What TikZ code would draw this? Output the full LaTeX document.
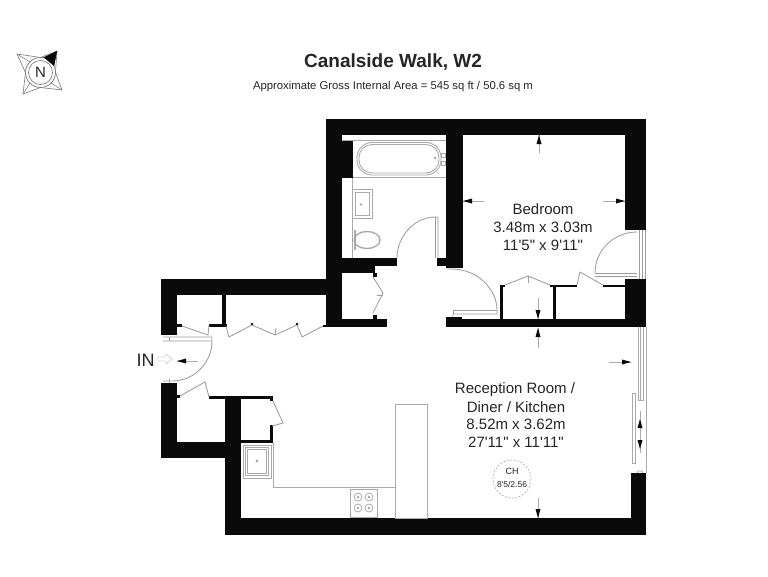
\documentclass[tikz,border=0pt]{standalone}
\usepackage{fontspec}
\setmainfont{Liberation Sans}
\newfontfamily\straightfont{Liberation Sans}
\definecolor{wallc}{HTML}{0A0A0A}
\definecolor{fix}{HTML}{ABABAB}
\definecolor{txt}{HTML}{262626}
\tikzset{
  wall/.style={fill=wallc,draw=none},
  fixture/.style={draw=fix,line width=0.9pt,fill=none},
  doorline/.style={draw=fix!92!black,line width=0.85pt,fill=none},
  dimline/.style={draw=fix,line width=0.7pt},
  dimtip/.style={fill=wallc,draw=none},
  label/.style={text=txt,font=\straightfont\fontsize{15}{15}\selectfont,inner sep=0pt,anchor=base},
}
\newcommand{\dimup}[2]{\fill[dimtip] (#1,#2) -- ++(-2.5,9) -- ++(5,0) -- cycle;}
\newcommand{\dimdown}[2]{\fill[dimtip] (#1,#2) -- ++(-2.5,-9) -- ++(5,0) -- cycle;}
\newcommand{\dimleft}[2]{\fill[dimtip] (#1,#2) -- ++(9,-2.5) -- ++(0,5) -- cycle;}
\newcommand{\dimright}[2]{\fill[dimtip] (#1,#2) -- ++(-9,-2.5) -- ++(0,5) -- cycle;}
\begin{document}
\begin{tikzpicture}[x=1pt,y=-1pt]
\useasboundingbox (0,0) rectangle (768,576);
\fill[white] (0,0) rectangle (768,576);

% --- title
\node[inner sep=0pt,anchor=base,text=txt,font=\bfseries\fontsize{19}{19}\selectfont] (title) at (393,67) {Canalside Walk, W2};
\node[inner sep=0pt,anchor=base,text=txt,font=\fontsize{11.3}{12}\selectfont] (subtitle) at (393,89) {Approximate Gross Internal Area = 545 sq ft / 50.6 sq m};

% --- compass
\draw[fix!70!black,line width=0.6pt,fill=white] (57,51) -- (40.5,57.5) -- (17,54) -- (25.5,72.5) -- (23,94) -- (40.5,87.5) -- (62,90) -- (55.5,72.5) -- cycle;
\fill[wallc] (57,51) -- (42,58) -- (54,66) -- cycle;
\draw[fix!70!black,line width=0.5pt] (17,54) -- (30,62) (23,94) -- (30,83) (62,90) -- (51,83);
\draw[fix!70!black,line width=0.7pt,fill=white] (40.5,72.5) circle[radius=15];
\fill[wallc] (57,51) -- (44.5,58) -- (54,66) -- cycle;
\draw[fix!70!black,line width=0.6pt] (40.5,72.5) circle[radius=12];
\node[inner sep=0pt,text=txt,font=\fontsize{15}{15}\selectfont] (north) at (40.5,72.5) {N};

% --- walls
\fill[wall] (326,119) rectangle (646,135);   % top
\fill[wall] (326,119) rectangle (342,327);   % bath/closet left
\fill[wall] (342,140) rectangle (353,178);   % bath nib
\fill[wall] (446,119) rectangle (463,268);   % bath/bed
\fill[wall] (437,258) rectangle (446,266);
\fill[wall] (342,258) rectangle (397,266);
\fill[wall] (342,258) rectangle (375,273);
\fill[wall] (373,273) rectangle (377,277);
\fill[wall] (326,319) rectangle (387,327);
\fill[wall] (373,315) rectangle (377,319);
\fill[wall] (625,119) rectangle (646,230);   % bed right
\fill[wall] (625,279) rectangle (646,327);
\fill[wall] (446,319) rectangle (646,327);   % bed bottom
\fill[wall] (446,317) rectangle (462,319);
\fill[wall] (500,285) rectangle (503,319);
\fill[wall] (553,285) rectangle (556,319);
\fill[wall] (500,285) rectangle (505,287);
\fill[wall] (550,285) rectangle (577,287);
\fill[wall] (603,285) rectangle (625,287);
\fill[wall] (161,279) rectangle (326,295);   % upper hall
\fill[wall] (161,279) rectangle (177,335);
\fill[wall] (177,324) rectangle (182,327);
\fill[wall] (222,295) rectangle (226,327);
\fill[wall] (209,324) rectangle (227,327);
\fill[wall] (323,325) rectangle (326,327);
\fill[wall] (161,383) rectangle (177,458);   % lower hall
\fill[wall] (161,442) rectangle (241,458);
\fill[wall] (177,395) rectangle (180,398);
\fill[wall] (209,396) rectangle (273,399);
\fill[wall] (225,396) rectangle (241,535);
\fill[wall] (270,396) rectangle (273,401);
\fill[wall] (270,425) rectangle (273,443);
\fill[wall] (241,440) rectangle (273,443);
\fill[wall] (225,518) rectangle (646,535);   % bottom
\fill[wall] (631,473) rectangle (646,535);   % right
\fill[wall] (252,324) circle[radius=1.5] (297,324) circle[radius=1.5];

% --- bathroom
\draw[fixture] (342,140.5) -- (446,140.5);
\draw[fixture] (353,177.5) -- (446,177.5);
\draw[fixture] (352.5,178) -- (352.5,258);
\draw[fixture,rounded corners=15pt] (357,142.5) rectangle (441,175);
\draw[fixture,rounded corners=13pt] (359,144.5) rectangle (439,173);
\fill[fix] (435,158) circle[radius=1.5];
\draw[fixture,line width=0.6pt] (441,153) rectangle (445,157) (441,161) rectangle (445,165);
\draw[fixture] (352.5,189) rectangle (372,218);
\draw[fixture] (355,192) rectangle (369.5,215);
\fill[fix] (361,204.5) circle[radius=1.3];
\draw[fixture,line width=2pt] (354.5,230) -- (354.5,250);
\draw[fixture,line width=1.4pt] (367,240) ellipse[x radius=13,y radius=8.5];
\draw[doorline] (397,258) .. controls (397,236) and (415,217) .. (435,217) -- (438,217) -- (438,258);
\draw[doorline] (435,217) -- (435,258);

% --- inner doors
\draw[doorline] (373,277) -- (383,293) -- (373,313);
\draw[doorline] (377,295) -- (383,295);
\draw[doorline] (447,269) -- (452,269) .. controls (477,269) and (497,289) .. (497,310) -- (497,314) -- (453,314) -- (453,317);
\draw[doorline] (497,310) -- (453,310) -- (453,314);
\draw[doorline] (505,285) -- (528,276) -- (550,285);
\draw[doorline] (528,276) -- (528,283);
\draw[doorline] (577,285) -- (580,272) -- (603,285);
\draw[doorline] (595,273) .. controls (595,250) and (614,232) .. (637,232);
\draw[doorline] (595,273) -- (637,273) (595,276) -- (637,276);
\draw[doorline] (639,230) -- (639,279) (642,230) -- (642,279) (645.5,230) -- (645.5,279);
\draw[doorline] (182,326) -- (208,335) -- (209,325);
\draw[doorline] (226,326) -- (229,337) -- (252,325) -- (275,335) -- (297,325) -- (302,337) -- (323,326);
\draw[doorline] (276,328) -- (275,335);
\draw[doorline] (180,396) -- (205,382) -- (209,397);
\draw[doorline] (273,401) -- (283,423) -- (272,426);
% entrance door
\draw[doorline] (163,337) -- (212,337) -- (212,341) -- (163,341) (212,341) .. controls (212,363) and (194,381) .. (172,381) -- (163,381);
\draw[doorline] (169,337) -- (169,341) (169,379) -- (169,383);

% --- kitchen
\draw[fixture] (243,445) rectangle (271,478);
\draw[fixture] (245.5,447.5) rectangle (268.5,475.5);
\draw[fixture] (247.5,449.5) rectangle (266.5,473.5);
\fill[fix] (257,461) circle[radius=1.7];
\draw[fixture] (273,443) -- (273,487) -- (396,487);
\draw[fixture] (395.5,404) rectangle (427,518);
\draw[fixture] (350,489) rectangle (377,517);
\foreach \cx/\cy in {358/497,369/497,358/508,369/508}{
  \draw[fixture,line width=0.8pt] (\cx,\cy) circle[radius=4];
  \fill[fix] (\cx,\cy) circle[radius=1.5];
}

% --- glazing
\draw[fixture] (638.5,327) -- (638.5,400) -- (643,400) -- (643,327);
\draw[fixture] (640.5,327) -- (640.5,400);
\draw[fixture] (646,327) -- (646,473);
\draw[fixture] (632,393) rectangle (635.5,463);
\draw[fixture] (637,473) -- (638,471) -- (642,471) -- (643,473);

% --- dimension arrows
\coordinate (dA1) at (539,153); \coordinate (dA2) at (539,135);
\draw[dimline] (dA1) -- (dA2); \dimup{539}{135}
\coordinate (dB1) at (484,201); \coordinate (dB2) at (463,201);
\draw[dimline] (dB1) -- (dB2); \dimleft{463}{201}
\coordinate (dC1) at (603,201); \coordinate (dC2) at (625,201);
\draw[dimline] (dC1) -- (dC2); \dimright{625}{201}
\coordinate (dD1) at (538,298); \coordinate (dD2) at (538,319);
\draw[dimline] (dD1) -- (dD2); \dimdown{538}{319}
\coordinate (dE1) at (538,348); \coordinate (dE2) at (538,328);
\draw[dimline] (dE1) -- (dE2); \dimup{538}{328}
\coordinate (dF1) at (538,498); \coordinate (dF2) at (538,518);
\draw[dimline] (dF1) -- (dF2); \dimdown{538}{518}
\coordinate (dG1) at (609,362); \coordinate (dG2) at (631,362);
\draw[dimline] (dG1) -- (dG2); \dimright{631}{362}
\coordinate (dH1) at (198,361); \coordinate (dH2) at (177,361);
\draw[dimline] (dH1) -- (dH2); \dimleft{177}{361}
\coordinate (dI1) at (640,411); \coordinate (dI2) at (640,453);
\draw[dimline] (dI1) -- (dI2); \dimup{640}{419} \dimdown{640}{449}

% --- IN
\node[inner sep=0pt,text=txt,font=\fontsize{18}{18}\selectfont] (inlabel) at (145.5,360) {IN};
\draw[fix!50,line width=0.8pt] (158,357) -- (166,357) -- (166,354) -- (172,359) -- (166,364) -- (166,361) -- (158,361) -- cycle;

% --- room labels
\node[label] (bed1) at (543,214) {Bedroom};
\node[label] (bed2) at (543,232.5) {3.48m x 3.03m};
\node[label] (bed3) at (543,250) {11'5" x 9'11"};
\node[label] (rec1) at (515,393) {Reception Room /};
\node[label] (rec2) at (516,412) {Diner / Kitchen};
\node[label] (rec3) at (516,429.5) {8.52m x 3.62m};
\node[label] (rec4) at (516,447) {27'11" x 11'11"};
\draw[fix,dash pattern=on 2pt off 1.5pt,line width=0.6pt] (512,479) circle[radius=19];
\node[inner sep=0pt,text=txt,font=\straightfont\fontsize{9}{9}\selectfont] (ch1) at (512,471) {CH};
\node[inner sep=0pt,text=txt,font=\straightfont\fontsize{8.5}{9}\selectfont] (ch2) at (512,484) {8'5/2.56};
\end{tikzpicture}
\end{document}
